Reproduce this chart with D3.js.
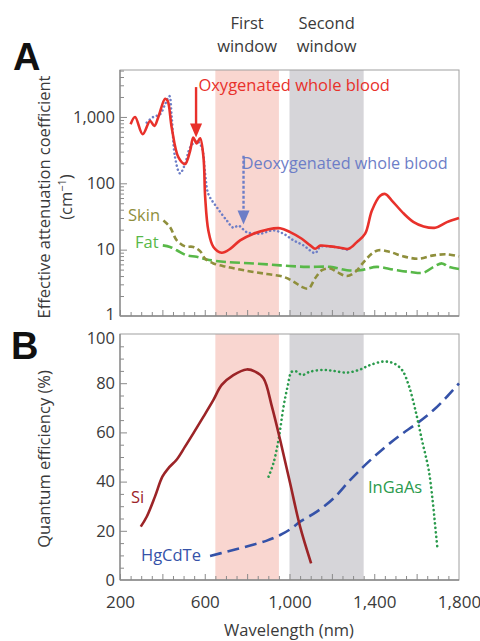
<!DOCTYPE html>
<html><head><meta charset="utf-8">
<script src="https://cdn.jsdelivr.net/npm/d3@7"></script>
<style>body{margin:0;background:#fff}svg{display:block}</style>
</head><body>
<script>
// ---- DATA ----
const oxyWl  = [250,271,307,342,362,381,413,425,444,476,507,531,546,562,578,594,602,617,641,680,720,767,830,893,956,1003,1058,1098,1121,1145,1192,1239,1279,1318,1357,1389,1428,1452,1483,1539,1586,1633,1688,1743,1800];
const oxyVal = [776,1000,550,870,733,1000,1880,1740,692,245,195,309,490,400,478,245,62,19.5,11,9.0,10.3,13.8,17.4,20,21,18.4,14.6,11.6,10.3,11.5,11.2,10.7,10.3,13,17.4,39,65,69,55,35,26,22.4,21.4,26,30];
const deoxyWl  = [326,357,389,413,433,444,460,483,507,531,562,586,602,617,657,704,735,759,798,861,924,971,1019,1066,1121,1145,1208,1271];
const deoxyVal = [822,1000,1096,1550,2065,1000,245,141,195,347,437,347,138,69,43.6,27.5,21.4,23,18.4,17.4,19.5,17.4,13.8,11.6,8.9,11,11,10];
const skinWl  = [405,436,468,507,546,578,602,641,704,798,893,971,1019,1058,1090,1121,1153,1192,1224,1271,1310,1350,1389,1420,1476,1539,1609,1680,1743,1800];
const skinVal = [27.5,21.9,13.8,11.2,11,9.5,7.3,6.2,5.5,4.8,4.3,3.9,3.3,2.75,2.6,3.7,4.9,5.2,4.6,4.0,4.6,6.5,8.7,9.8,9.2,7.9,7.3,8.2,8.5,7.9];
const fatWl  = [402,436,468,515,562,609,704,830,956,1082,1192,1271,1334,1413,1491,1570,1633,1680,1720,1751,1800];
const fatVal = [11.6,11,9.8,8.2,7.8,7.1,6.5,6.2,5.8,5.5,5.5,4.9,4.9,5.5,5.0,4.6,4.5,5.5,6.2,5.5,5.1];

const siWl  = [298,326,365,400,428,468,507,546,594,641,680,735,798,838,877,917,956,1003,1050,1102];
const siVal = [21.7,25.7,33.9,42,45.4,49,54.2,59.6,66.4,73.2,79.3,83.3,85.6,84.7,82,70.5,56.9,39.3,21.7,6.8];
const ingaasWl  = [901,924,948,972,991,1011,1035,1058,1098,1161,1208,1271,1334,1381,1444,1491,1531,1562,1594,1625,1657,1677,1688,1699];
const ingaasVal = [42,47.4,56.9,70.5,78.6,84.7,84.7,83.3,84.7,85.4,85,84.3,85.6,87.4,88.8,88.1,85.4,79.3,69.1,56.9,44.7,31.2,21.7,12.2];
const hgWl  = [625,704,798,893,956,1003,1050,1129,1208,1287,1365,1444,1523,1602,1680,1743,1800];
const hgVal = [9.8,11.5,13.6,16,18.3,20.6,23.7,27.8,33.2,40.7,47.4,53.5,58.9,63.7,69.1,74.5,79.9];

const windows = [[650,950],[1000,1350]];
const windowLabels = [["First","window"],["Second","window"]];
const xTicks = [200,600,1000,1400,1800];
const xTickLabels = ["200","600","1,000","1,400","1,800"];
const logTicks = [1,10,100,1000];
const logTickLabels = ["1","10","100","1,000"];
const qeTicks = [0,20,40,60,80,100];

// ---- LAYOUT ----
const W=480,H=641, L=120, R=459;
const topA=70, botA=316, topB=334, botB=580;
const font='"Open Sans", sans-serif';
const txt='#3a3a3a', frame='#8a8a8a';
const fs=16.5;

const svg=d3.select('body').append('svg').attr('width',W).attr('height',H).style('font-family',font);
const x=d3.scaleLinear().domain([200,1800]).range([L,R]);
const yA=d3.scaleLog().domain([1,5100]).range([botA,topA]);
const yB=d3.scaleLinear().domain([0,100]).range([botB,topB]);

const winColors=['#f9d6d0','#d6d5d9'];
function drawWindows(t,b){
  windows.forEach((w,i)=>svg.append('rect').attr('x',x(w[0])).attr('y',t).attr('width',x(w[1])-x(w[0])).attr('height',b-t).attr('fill',winColors[i]));
}
drawWindows(topA,botA); drawWindows(topB,botB);

// frames
function frameBox(t,b){
  svg.append('rect').attr('x',L).attr('y',t).attr('width',R-L).attr('height',b-t).attr('fill','none').attr('stroke','#a0a0a0').attr('stroke-width',1);
  svg.append('line').attr('x1',L).attr('x2',L).attr('y1',t).attr('y2',b).attr('stroke',frame).attr('stroke-width',1.3);
  svg.append('line').attr('x1',L).attr('x2',R).attr('y1',b).attr('y2',b).attr('stroke',frame).attr('stroke-width',1.3);
}
frameBox(topA,botA); frameBox(topB,botB);

// x ticks (inward) both panels
const xMinor=d3.range(200,1801,50);
function xTicksFor(b){
  const g=svg.append('g').attr('transform',`translate(0,${b})`);
  const ax=d3.axisBottom(x).tickValues(xMinor).tickSize(-4).tickFormat('');
  g.call(ax); g.select('.domain').remove();
  g.selectAll('.tick line').attr('stroke',frame).attr('y2',d=>d%200===0?-6:-4);
  g.selectAll('.tick').filter(d=>d===1800).remove();
  return g;
}
xTicksFor(botA); xTicksFor(botB);
const gxl=svg.append('g').attr('transform',`translate(0,${botB})`);
gxl.call(d3.axisBottom(x).tickValues(xTicks).tickSize(0).tickPadding(16).tickFormat((d,i)=>xTickLabels[i]));
gxl.select('.domain').remove();
gxl.selectAll('text').attr('font-size',17).attr('fill',txt).attr('font-family',font);

// top y axis (log)
const minorLog=[];
[1,10,100,1000].forEach(dec=>{for(let k=1;k<10;k++){const v=dec*k; if(v<=5100&&v>1) minorLog.push(v);}});
const gyA=svg.append('g').attr('transform',`translate(${L},0)`);
gyA.call(d3.axisLeft(yA).tickValues(minorLog).tickSize(-4).tickFormat(''));
gyA.select('.domain').remove();
gyA.selectAll('.tick line').attr('stroke',frame).attr('x2',d=>logTicks.includes(d)?7:4);
const gyAl=svg.append('g').attr('transform',`translate(${L},0)`);
gyAl.call(d3.axisLeft(yA).tickValues(logTicks).tickSize(0).tickPadding(5).tickFormat((d,i)=>logTickLabels[i]));
gyAl.select('.domain').remove();
gyAl.selectAll('text').attr('font-size',fs).attr('fill',txt).attr('font-family',font)
  .attr('dy',d=>d===1?'0.2em':'0.32em');

// bottom y axis
const gyB=svg.append('g').attr('transform',`translate(${L},0)`);
gyB.call(d3.axisLeft(yB).tickValues(d3.range(5,100,5)).tickSize(-4).tickFormat(''));
gyB.select('.domain').remove();
gyB.selectAll('.tick line').attr('stroke',frame).attr('x2',d=>d%20===0?7:4);
const gyBl=svg.append('g').attr('transform',`translate(${L},0)`);
gyBl.call(d3.axisLeft(yB).tickValues(qeTicks).tickSize(0).tickPadding(5));
gyBl.select('.domain').remove();
gyBl.selectAll('text').attr('font-size',fs).attr('fill',txt).attr('font-family',font)
  .attr('dy',d=>d===100?'0.55em':'0.32em');

// lines
function drawLine(wl,val,ys,color,w,dash,cap){
  const data=wl.map((d,i)=>[d,val[i]]);
  svg.append('path').datum(data)
    .attr('d',d3.line().x(d=>x(d[0])).y(d=>ys(d[1])).curve(d3.curveCatmullRom.alpha(0.5)))
    .attr('fill','none').attr('stroke',color).attr('stroke-width',w)
    .attr('stroke-dasharray',dash||null).attr('stroke-linecap',cap||'butt').attr('stroke-linejoin','round');
}
const cOxy='#e8312b', cDeoxy='#6d7ec7', cSkin='#8f8f3c', cFat='#58b848';
drawLine(fatWl,fatVal,yA,cFat,2.6,'10,4');
drawLine(skinWl,skinVal,yA,cSkin,2.6,'6,3.5');
drawLine(deoxyWl,deoxyVal,yA,cDeoxy,2.5,'0.1,4','round');
drawLine(oxyWl,oxyVal,yA,cOxy,2.6);

const cSi='#9c2427', cIn='#2a9a4c', cHg='#3552a8';
drawLine(hgWl,hgVal,yB,cHg,2.6,'12,6');
drawLine(ingaasWl,ingaasVal,yB,cIn,2.6,'0.1,4.4','round');
drawLine(siWl,siVal,yB,cSi,2.6);

// arrows
function arrow(wl,v1,v2,color,dash){
  const ax=x(wl), y1=yA(v1), y2=yA(v2);
  svg.append('line').attr('x1',ax).attr('x2',ax).attr('y1',y1).attr('y2',y2-10).attr('stroke',color).attr('stroke-width',2.4)
    .attr('stroke-dasharray',dash||null);
  svg.append('path').attr('d',`M${ax-6},${y2-14}L${ax+6},${y2-14}L${ax},${y2}Z`).attr('fill',color);
}
arrow(559,2818,490,cOxy);
arrow(783,260,24,cDeoxy,'3,2');

// series labels
function label(t,px,py,color,size){
  svg.append('text').attr('x',px).attr('y',py).text(t).attr('fill',color).attr('font-size',size||fs);
}
label('Oxygenated whole blood',x(570),yA(2500),cOxy,16.5);
label('Deoxygenated whole blood',x(775),yA(165),cDeoxy,16.2);
label('Skin',128,yA(27),cSkin);
label('Fat',135,yA(10.5),cFat);
label('Si',131,503,cSi);
label('HgCdTe',141,561,cHg);
label('InGaAs',368,493,cIn);

// window labels
windows.forEach((w,i)=>{
  const cx=(x(w[0])+x(w[1]))/2;
  windowLabels[i].forEach((s,j)=>svg.append('text').attr('x',cx).attr('y',29+j*23).attr('text-anchor','middle').attr('fill',txt).attr('font-size',fs).text(s));
});

// axis titles
svg.append('text').attr('transform',`translate(50,197) rotate(-90)`).attr('text-anchor','middle').attr('font-size',fs).attr('fill',txt).text('Effective attenuation coefficient');
const cm=svg.append('text').attr('transform',`translate(72,197) rotate(-90)`).attr('text-anchor','middle').attr('font-size',fs).attr('fill',txt);
cm.append('tspan').text('(cm');
cm.append('tspan').attr('dy',-6).attr('font-size',11).text('−1');
cm.append('tspan').attr('dy',6).text(')');
svg.append('text').attr('transform',`translate(50,459) rotate(-90)`).attr('text-anchor','middle').attr('font-size',fs).attr('fill',txt).text('Quantum efficiency (%)');
svg.append('text').attr('x',289).attr('y',636).attr('text-anchor','middle').attr('font-size',fs).attr('fill',txt).text('Wavelength (nm)');

// panel letters
svg.append('text').attr('x',13).attr('y',70).attr('font-size',38).attr('font-weight','bold').attr('fill','#111').attr('font-family','"Liberation Sans", Arial, sans-serif').text('A');
svg.append('text').attr('x',11).attr('y',359).attr('font-size',38).attr('font-weight','bold').attr('fill','#111').attr('font-family','"Liberation Sans", Arial, sans-serif').text('B');
</script>
</body></html>
